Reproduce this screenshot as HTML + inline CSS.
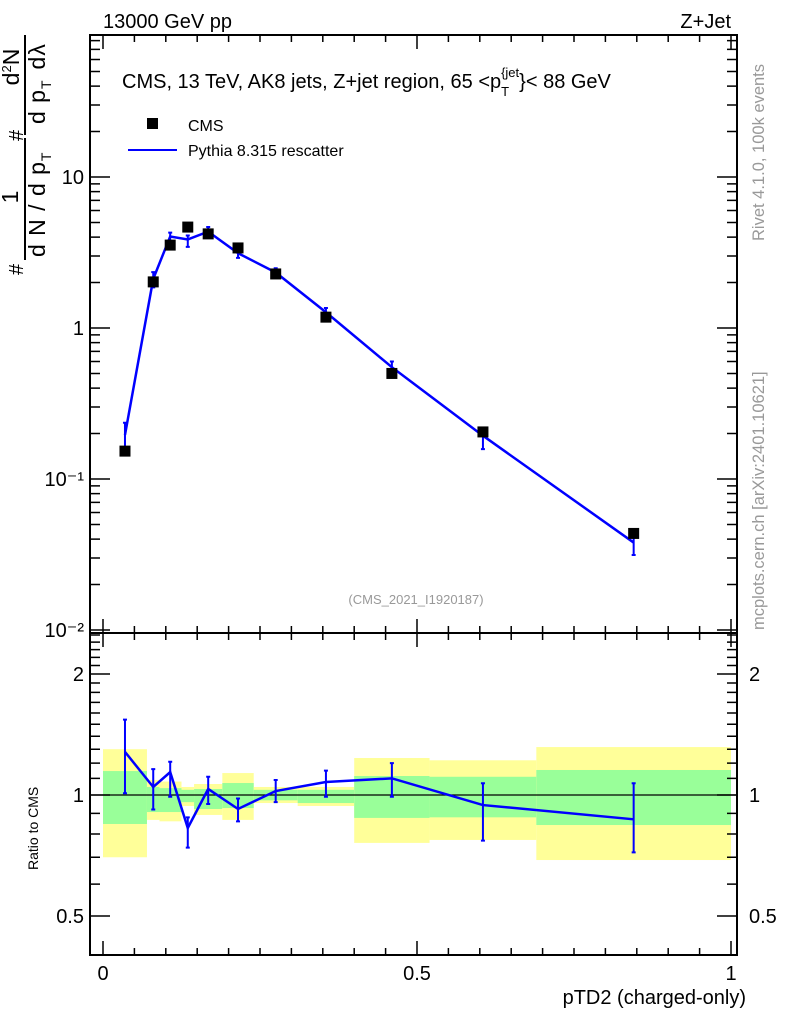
<!DOCTYPE html>
<html><head><meta charset="utf-8"><style>
html,body{margin:0;padding:0;background:#fff;}
svg text{font-family:"Liberation Sans",sans-serif;}
</style></head><body>
<svg id="chart" width="786" height="1024" viewBox="0 0 786 1024" xmlns="http://www.w3.org/2000/svg">
<g id="bands"></g>
<g id="marks"></g>
<g id="axes"></g>
<text x="103" y="28" font-size="20">13000 GeV pp</text>
<text x="731" y="28" font-size="20" text-anchor="end">Z+Jet</text>
<text x="122" y="88" font-size="20">CMS, 13 TeV, AK8 jets, Z+jet region, 65 &lt;p<tspan font-size="13" dy="8">T</tspan><tspan font-size="13" dy="-19" dx="-8">{jet</tspan><tspan dy="11">}&lt; 88 GeV</tspan></text>
<rect x="147" y="118" width="11" height="11" fill="#000"/>
<text x="188" y="131" font-size="16">CMS</text>
<line x1="128" y1="150" x2="177" y2="150" stroke="#0000ff" stroke-width="2"/>
<text x="188" y="156" font-size="16">Pythia 8.315 rescatter</text>
<text x="416" y="604" font-size="13" fill="#999" text-anchor="middle">(CMS_2021_I1920187)</text>
<text transform="translate(764,241) rotate(-90)" font-size="16.5" fill="#999">Rivet 4.1.0,  100k events</text>
<text transform="translate(764,630) rotate(-90)" font-size="16.5" fill="#999">mcplots.cern.ch [arXiv:2401.10621]</text>
<g font-size="23">
<text transform="translate(23,275) rotate(-90)" font-size="20">#</text>
<line x1="25" y1="138" x2="25" y2="260" stroke="#000" stroke-width="2"/>
<text transform="translate(18,197) rotate(-90)" text-anchor="middle">1</text>
<text transform="translate(45,257) rotate(-90)" letter-spacing="1">d N / d p<tspan font-size="14" dy="6">T</tspan></text>
<text transform="translate(23,141) rotate(-90)" font-size="20">#</text>
<line x1="25" y1="35" x2="25" y2="135" stroke="#000" stroke-width="2"/>
<text transform="translate(19,67) rotate(-90)" text-anchor="middle">d<tspan font-size="13" dy="-8">2</tspan><tspan dy="8">N</tspan></text>
<text transform="translate(45,124) rotate(-90)" letter-spacing="1">d p<tspan font-size="14" dy="6">T</tspan><tspan dx="10" dy="-6">dλ</tspan></text>
</g>
<text transform="translate(38,870) rotate(-90)" font-size="14">Ratio to CMS</text>
<text x="746" y="1004" font-size="20" text-anchor="end">pTD2 (charged-only)</text>
</svg>
<script>
const binEdges=[0,0.07,0.09,0.125,0.145,0.19,0.24,0.31,0.40,0.52,0.69,1.0];
const xCenters=[0.035,0.08,0.107,0.135,0.1675,0.215,0.275,0.355,0.46,0.605,0.845];
const cmsValues=[0.153,2.02,3.54,4.66,4.2,3.39,2.28,1.18,0.50,0.205,0.0436];
const mcRatio=[1.28,1.047,1.14,0.828,1.035,0.923,1.023,1.077,1.10,0.944,0.87];
const mcRatioHi=[1.54,1.16,1.21,0.88,1.11,0.98,1.09,1.15,1.20,1.07,1.07];
const mcRatioLo=[1.01,0.92,0.99,0.74,0.95,0.86,0.96,0.99,0.99,0.77,0.72];
const yellowHi=[1.30,1.09,1.08,1.047,1.065,1.134,1.047,1.047,1.236,1.22,1.316];
const yellowLo=[0.70,0.867,0.86,0.939,0.892,0.867,0.955,0.939,0.76,0.773,0.689];
const greenHi=[1.147,1.047,1.04,1.03,1.035,1.071,1.03,1.03,1.115,1.11,1.154];
const greenLo=[0.847,0.907,0.907,0.96,0.923,0.928,0.97,0.955,0.877,0.88,0.842];
const xTicks=[0,0.5,1];
const xTickLabels=["0","0.5","1"];
const yDecades=[0.01,0.1,1,10];
const yTickLabels=["10⁻²","10⁻¹","1","10"];
const rTicks=[0.5,1,2];
const rTickLabels=["0.5","1","2"];

const NS="http://www.w3.org/2000/svg";
const X0=90,X1=737,T0=35,T1=633,R1=955;
const sx=v=>103+v*628;
const sy=v=>328-Math.log10(v)*151;
const sr=v=>795-Math.log2(v)*121;
function mk(tag,attrs,parent){const e=document.createElementNS(NS,tag);for(const k in attrs)e.setAttribute(k,attrs[k]);parent.appendChild(e);return e;}
const bands=document.getElementById('bands'),marks=document.getElementById('marks'),axes=document.getElementById('axes');

for(let i=0;i<xCenters.length;i++){
  const xa=sx(binEdges[i]),xb=sx(binEdges[i+1]);
  const y=mk('rect',{x:xa,y:sr(yellowHi[i]),width:xb-xa,height:sr(yellowLo[i])-sr(yellowHi[i]),fill:'#ffff99'},bands);
  
  
  const g=mk('rect',{x:xa,y:sr(greenHi[i]),width:xb-xa,height:sr(greenLo[i])-sr(greenHi[i]),fill:'#99ff99'},bands);
  
  
}
const one=mk('line',{x1:X0,x2:X1,y1:sr(1),y2:sr(1),stroke:'#000','stroke-width':1.3},bands);



let pts=[],rpts=[];
for(let i=0;i<xCenters.length;i++){
  const x=sx(xCenters[i]);
  const mc=cmsValues[i]*mcRatio[i];
  pts.push(x+','+sy(mc));
  rpts.push(x+','+sr(mcRatio[i]));
  const hi=cmsValues[i]*mcRatioHi[i],lo=cmsValues[i]*mcRatioLo[i];
  const e=mk('path',{d:`M${x},${sy(hi)}V${sy(lo)}M${x-2},${sy(hi)}h4M${x-2},${sy(lo)}h4`,stroke:'#0000ff','stroke-width':2,fill:'none'},marks);
  
  
  const re=mk('path',{d:`M${x},${sr(mcRatioHi[i])}V${sr(mcRatioLo[i])}M${x-2},${sr(mcRatioHi[i])}h4M${x-2},${sr(mcRatioLo[i])}h4`,stroke:'#0000ff','stroke-width':2,fill:'none'},marks);
  
  
}
const ml=mk('polyline',{points:pts.join(' '),stroke:'#0000ff','stroke-width':2.5,fill:'none'},marks);


const rl=mk('polyline',{points:rpts.join(' '),stroke:'#0000ff','stroke-width':2.5,fill:'none'},marks);


for(let i=0;i<xCenters.length;i++){
  const p=mk('rect',{x:sx(xCenters[i])-5.5,y:sy(cmsValues[i])-5.5,width:11,height:11,fill:'#000'},marks);
  
  
}

const f1=mk('rect',{x:X0,y:T0,width:X1-X0,height:T1-T0,fill:'none',stroke:'#000','stroke-width':2},axes);


const f2=mk('rect',{x:X0,y:T1,width:X1-X0,height:R1-T1,fill:'none',stroke:'#000','stroke-width':2},axes);


let d='';
for(let v=0;v<=1.0001;v+=0.05){
  const big=Math.abs(v*10-Math.round(v*10))<1e-6 && Math.round(v*10)%5===0;
  const L=big?14:7;
  const x=sx(v);
  d+=`M${x},${T1}v-${L}M${x},${T0}v${L}M${x},${R1}v-${L}M${x},${T1}v${L}`;
}
for(let k=-2;k<=1;k++){
  for(let m=1;m<10;m++){
    const v=m*Math.pow(10,k);const y=sy(v);
    if(y<T0||y>T1)continue;
    const L=m===1?20:10;
    d+=`M${X0},${y}h${L}M${X1},${y}h-${L}`;
  }
}
for(let m=2;m<=5;m++){const y=sy(m*10);if(y>=T0)d+=`M${X0},${y}h10M${X1},${y}h-10`;}
const rt=[0.4,0.5,0.6,0.7,0.8,0.9,1,1.1,1.2,1.3,1.4,1.5,1.6,1.7,1.8,1.9,2,2.1,2.2,2.3,2.4,2.5];
rt.forEach(v=>{const y=sr(v);if(y<T1||y>R1)return;const L=rTicks.includes(v)?20:10;d+=`M${X0},${y}h${L}M${X1},${y}h-${L}`;});
const tk=mk('path',{d:d,stroke:'#000','stroke-width':1.5,fill:'none'},axes);


xTicks.forEach((v,i)=>{const t=mk('text',{x:sx(v),y:980,'font-size':20,'text-anchor':'middle'},axes);t.textContent=xTickLabels[i];

});
yDecades.forEach((v,i)=>{const t=mk('text',{x:84,y:sy(v)+7,'font-size':20,'text-anchor':'end'},axes);t.textContent=yTickLabels[i];

});
rTicks.forEach((v,i)=>{
  const t=mk('text',{x:84,y:sr(v)+7,'font-size':20,'text-anchor':'end'},axes);t.textContent=rTickLabels[i];
  
  
  const t2=mk('text',{x:749,y:sr(v)+7,'font-size':20},axes);t2.textContent=rTickLabels[i];
  
  
});
</script>
</body></html>
